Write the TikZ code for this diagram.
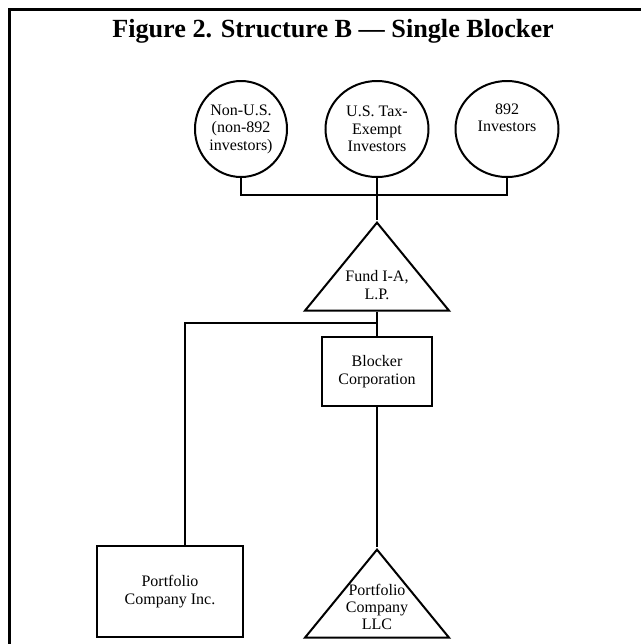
\documentclass[tikz,border=0pt]{standalone}
\usepackage{fontspec}
\setmainfont{Liberation Serif}
\usetikzlibrary{shapes}
\tikzset{
  body/.style = {font=\fontsize{8}{8.7}\selectfont, align=center},
  investor/.style = {ellipse, draw, body, inner sep=0pt,
    minimum width=51.5pt, minimum height=48pt},
  entity/.style = {rectangle, draw, body},
  partnership/.style = {isosceles triangle, isosceles triangle stretches,
    shape border rotate=90, draw, inner sep=0pt,
    minimum width=72pt, minimum height=44pt},
  tritext/.style = {body, inner sep=0pt}
}

\begin{document}
\begin{tikzpicture}[x=0.5pt,y=-0.5pt,line width=1pt]
  \useasboundingbox (0,0) rectangle (641,644);
  \draw[line width=1.5pt] (9.5,644) -- (9.5,9.5) -- (641,9.5);
  \node[anchor=base, font=\fontsize{13.1}{14}\selectfont\bfseries] (title) at (333,37)
    {Figure 2. Structure B --- Single Blocker};

  % investors
  \node[investor, minimum width=46pt] (nonus) at (241,129) {Non-U.S.\\(non-892\\investors)};
  \node[investor] (exempt) at (377,129) {U.S. Tax-\\Exempt\\Investors};
  \node[investor] (inv892) at (507,129) {892\\Investors\\\strut};
  \coordinate (bus) at (377,195);
  \draw (nonus.south) |- (bus) -| (inv892.south);

  % fund
  \node[partnership, anchor=apex] (fund) at (377,220) {};
  \node[tritext] (fundtext) at (377,285) {Fund I-A,\\L.P.};
  \draw (exempt.south) -- (fund.apex);

  \node[entity, minimum width=55pt, minimum height=34.5pt] (blocker) at (377,371.5) {Blocker\\Corporation};
  \node[entity, minimum width=73pt, minimum height=45.5pt] (inc) at (170,591.5) {Portfolio\\Company Inc.};
  \coordinate (split) at (377,323);
  \draw (fund.apex |- fund.left corner) -- (blocker.north);
  \draw (split) -| ([xshift=7.5pt]inc.north);

  \node[partnership, anchor=apex] (llc) at (377,547) {};
  \node[tritext] (llctext) at (377,607) {Portfolio\\Company\\LLC};
  \draw (blocker.south) -- (llc.apex);
\end{tikzpicture}
\end{document}
